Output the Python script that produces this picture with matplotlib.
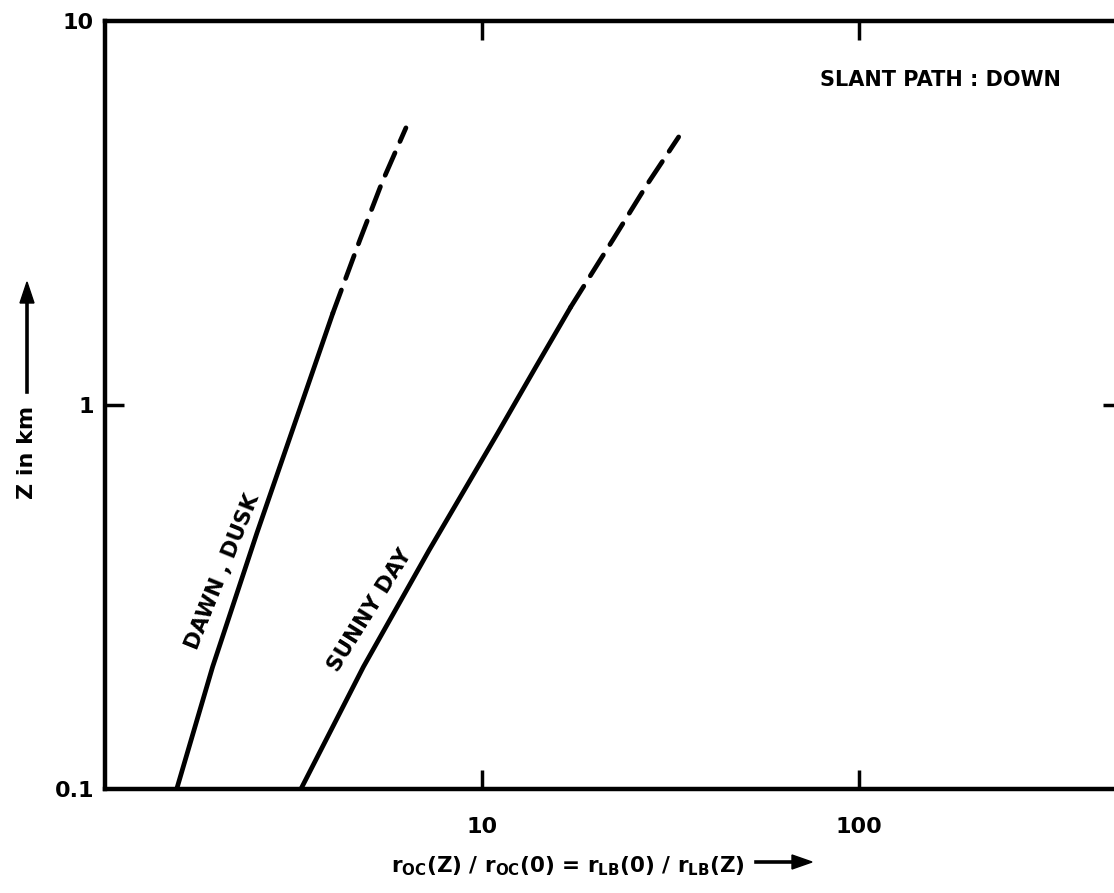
import numpy as np
import matplotlib.pyplot as plt
from matplotlib.ticker import FixedLocator, NullLocator

# altitude Z (km) vs. ratio
dawn_z = [0.1, 0.208, 0.464, 1.03, 1.736, 2.69, 3.79, 5.27]
dawn_ratio = [1.55, 1.93, 2.53, 3.35, 4.025, 4.747, 5.43, 6.29]
sunny_z = [0.1, 0.208, 0.419, 0.846, 1.256, 1.80, 2.69, 3.74, 4.99]
sunny_ratio = [3.311, 4.85, 7.25, 11.03, 13.91, 17.22, 22.26, 27.4, 33.3]
dawn_split = 4   # index where the curve turns dashed
sunny_split = 5

x_ticks = [10, 100]
x_ticklabels = ['10', '100']
y_ticks = [0.1, 1, 10]
y_ticklabels = ['0.1', '1', '10']

plt.rcParams['font.family'] = ['DejaVu Sans']
plt.rcParams['font.weight'] = 'bold'
plt.rcParams['mathtext.default'] = 'bf'

W, H = 1114, 893
fig = plt.figure(figsize=(W / 100, H / 100), dpi=100)
ax = fig.add_axes([105 / W, 1 - 789 / H, 1017 / W, 768 / H])
ax.set_xscale('log')
ax.set_yscale('log')
ax.set_xlim(1, 500)
ax.set_ylim(0.1, 10)

lw = 3.4
for z, r, k in [(dawn_z, dawn_ratio, dawn_split), (sunny_z, sunny_ratio, sunny_split)]:
    ax.plot(r[:k + 1], z[:k + 1], color='black', lw=lw, solid_capstyle='round',
            solid_joinstyle='round')
    ax.plot(r[k:], z[k:], color='black', lw=lw, dashes=(5.2, 2.6),
            dash_capstyle='round', dash_joinstyle='round')

for s in ax.spines.values():
    s.set_linewidth(3.2)

ax.xaxis.set_major_locator(FixedLocator(x_ticks))
ax.xaxis.set_minor_locator(NullLocator())
ax.set_xticklabels(x_ticklabels)
ax.yaxis.set_major_locator(FixedLocator(y_ticks))
ax.yaxis.set_minor_locator(NullLocator())
ax.set_yticklabels(y_ticklabels)
ax.tick_params(axis='both', direction='in', length=14, width=2.5,
               top=True, right=True, labelsize=16)
ax.tick_params(axis='x', pad=20)
ax.tick_params(axis='y', pad=8)
# no tick marks at the axis limits on y
for t, v in zip(ax.yaxis.get_major_ticks(), y_ticks):
    if v != 1:
        t.tick1line.set_visible(False)
        t.tick2line.set_visible(False)

ax.text(223, H - 572, 'DAWN , DUSK', transform=None, rotation=68,
        ha='center', va='center', fontsize=15.5)
ax.text(370, H - 610, 'SUNNY DAY', transform=None, rotation=58,
        ha='center', va='center', fontsize=15.5)
ax.text(940, H - 80, 'SLANT PATH : DOWN', transform=None,
        ha='center', va='center', fontsize=15)

# y label with its long arrow
fig.text(27 / W, 1 - 452 / H, 'Z in km', rotation=90,
         ha='center', va='center', fontsize=16)
fig.add_artist(plt.Line2D([27 / W, 27 / W], [1 - 392 / H, 1 - 300 / H],
                          color='black', lw=2.6))
fig.add_artist(plt.Polygon([[20 / W, 1 - 303 / H], [34 / W, 1 - 303 / H],
                            [27 / W, 1 - 282 / H]], closed=True,
                           color='black'))

# x label with its arrow
fig.text(745 / W, 1 - 866 / H,
         r'r$_{OC}$(Z) / r$_{OC}$(0) = r$_{LB}$(0) / r$_{LB}$(Z)',
         ha='right', va='center', fontsize=15.5)
fig.add_artist(plt.Line2D([756 / W, 795 / W], [1 - 862 / H, 1 - 862 / H],
                          color='black', lw=2.6))
fig.add_artist(plt.Polygon([[792 / W, 1 - 855 / H], [792 / W, 1 - 869 / H],
                            [812 / W, 1 - 862 / H]], closed=True,
                           color='black'))

fig.savefig('out.png', dpi=100)
